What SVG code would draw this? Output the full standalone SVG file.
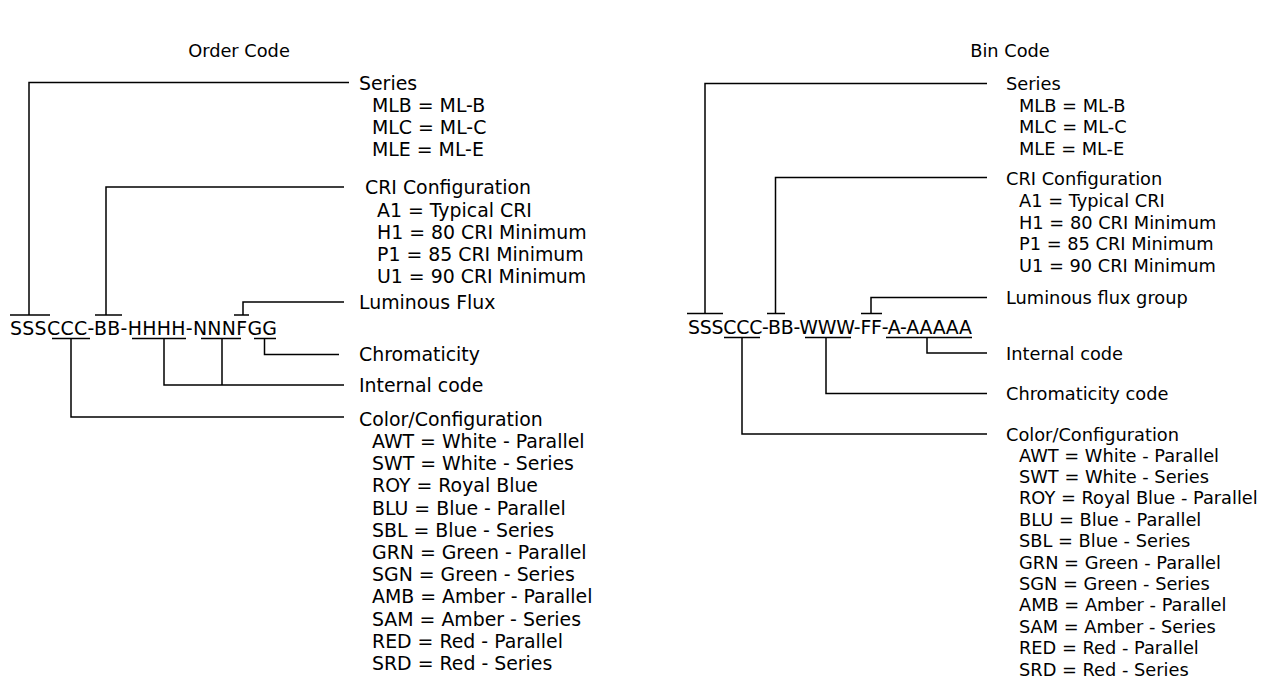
<svg xmlns="http://www.w3.org/2000/svg" width="1276" height="677" viewBox="0 0 1276 677">
<style>
text{font-family:"DejaVu Sans","Verdana",sans-serif;fill:#000}
.l{font-size:18.9px}
.r{font-size:17.8px}
.t{font-size:17.8px;text-anchor:middle}
.c{stroke:#000;stroke-width:1.5;fill:none}
</style>
<rect width="1276" height="677" fill="#fff"/>
<g id="connectors" class="c">
<path d="M10,315H50M29,315V82.5H349"/>
<path d="M95,315H122M106,315V187H344"/>
<path d="M234,315H249M243,315V302H344"/>
<path d="M254,338.5H276M264.5,338.5V354.5H339"/>
<path d="M132,338.5H186M201,338.5H241M164,338.5V385H344M222,338.5V385"/>
<path d="M52,338.5H90M71,338.5V417H344"/>
<path d="M687,313.5H723M705,313.5V83.5H987"/>
<path d="M767,313.5H785M775.5,313.5V177.5H987"/>
<path d="M861,313.5H882M871,313.5V297.5H987"/>
<path d="M886,337.5H972M927,337.5V353H987"/>
<path d="M805,337.5H851M826,337.5V393.5H987"/>
<path d="M724,337.5H760M742,337.5V434H987"/>
</g>
<g id="order-title"><text class="t" x="239" y="56.5">Order Code</text></g>
<g id="order-code"><text class="l" x="10" y="335" textLength="267" lengthAdjust="spacing">SSSCCC-BB-HHHH-NNNFGG</text></g>
<g id="order-series" class="l">
<text x="359" y="89.5">Series</text>
<text x="372" y="111.5">MLB = ML-B</text>
<text x="372" y="133.5">MLC = ML-C</text>
<text x="372" y="155.5">MLE = ML-E</text>
</g>
<g id="order-cri" class="l">
<text x="365" y="194">CRI Configuration</text>
<text x="377" y="216.5">A1 = Typical CRI</text>
<text x="377" y="238.5">H1 = 80 CRI Minimum</text>
<text x="377" y="260.5">P1 = 85 CRI Minimum</text>
<text x="377" y="282.5">U1 = 90 CRI Minimum</text>
</g>
<g id="order-flux"><text class="l" x="359" y="309">Luminous Flux</text></g>
<g id="order-chromaticity"><text class="l" x="359" y="361">Chromaticity</text></g>
<g id="order-internal"><text class="l" x="359" y="391.5">Internal code</text></g>
<g id="order-color" class="l">
<text x="359" y="425.5">Color/Configuration</text>
<text x="372" y="448">AWT = White - Parallel</text>
<text x="372" y="470.2">SWT = White - Series</text>
<text x="372" y="492.4">ROY = Royal Blue</text>
<text x="372" y="514.6">BLU = Blue - Parallel</text>
<text x="372" y="536.8">SBL = Blue - Series</text>
<text x="372" y="559">GRN = Green - Parallel</text>
<text x="372" y="581.2">SGN = Green - Series</text>
<text x="372" y="603.4">AMB = Amber - Parallel</text>
<text x="372" y="625.6">SAM = Amber - Series</text>
<text x="372" y="647.8">RED = Red - Parallel</text>
<text x="372" y="670">SRD = Red - Series</text>
</g>
<g id="bin-title"><text class="t" x="1010" y="56.5">Bin Code</text></g>
<g id="bin-code"><text class="l" x="688" y="334" textLength="284" lengthAdjust="spacing">SSSCCC-BB-WWW-FF-A-AAAAA</text></g>
<g id="bin-series" class="r">
<text x="1006" y="90">Series</text>
<text x="1019" y="111.5">MLB = ML-B</text>
<text x="1019" y="133">MLC = ML-C</text>
<text x="1019" y="154.5">MLE = ML-E</text>
</g>
<g id="bin-cri" class="r">
<text x="1006" y="185">CRI Configuration</text>
<text x="1019" y="207">A1 = Typical CRI</text>
<text x="1019" y="228.6">H1 = 80 CRI Minimum</text>
<text x="1019" y="250.2">P1 = 85 CRI Minimum</text>
<text x="1019" y="271.8">U1 = 90 CRI Minimum</text>
</g>
<g id="bin-flux"><text class="r" x="1006" y="304">Luminous flux group</text></g>
<g id="bin-internal"><text class="r" x="1006" y="359.5">Internal code</text></g>
<g id="bin-chromaticity"><text class="r" x="1006" y="400">Chromaticity code</text></g>
<g id="bin-color" class="r">
<text x="1006" y="440.5">Color/Configuration</text>
<text x="1019" y="461.5">AWT = White - Parallel</text>
<text x="1019" y="482.9">SWT = White - Series</text>
<text x="1019" y="504.3">ROY = Royal Blue - Parallel</text>
<text x="1019" y="525.7">BLU = Blue - Parallel</text>
<text x="1019" y="547.1">SBL = Blue - Series</text>
<text x="1019" y="568.5">GRN = Green - Parallel</text>
<text x="1019" y="589.9">SGN = Green - Series</text>
<text x="1019" y="611.3">AMB = Amber - Parallel</text>
<text x="1019" y="632.7">SAM = Amber - Series</text>
<text x="1019" y="654.1">RED = Red - Parallel</text>
<text x="1019" y="675.5">SRD = Red - Series</text>
</g>
</svg>
